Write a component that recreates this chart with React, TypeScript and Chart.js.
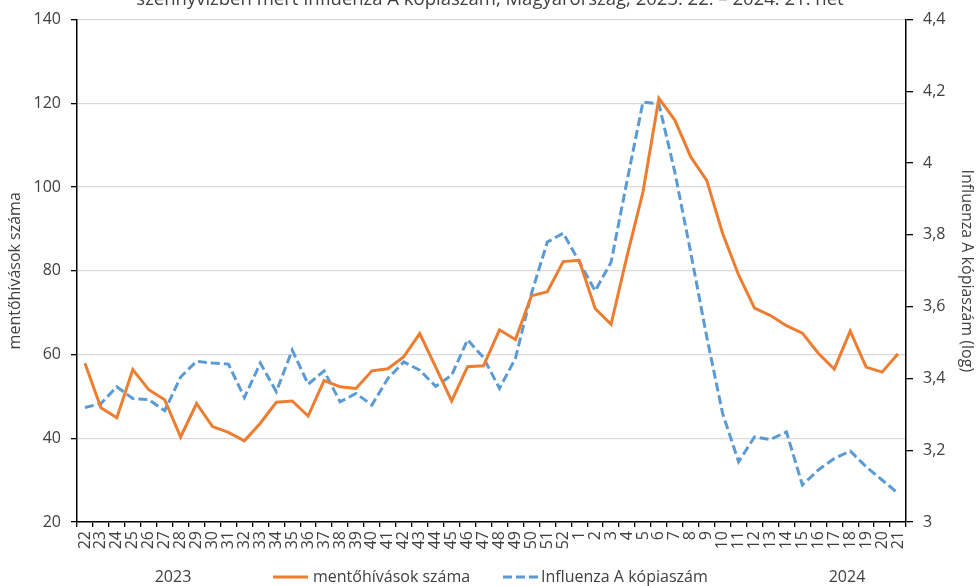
import React, { useEffect, useRef } from "react";
import { Chart, registerables } from "chart.js";

Chart.register(...registerables);

const weeks = [
  "22", "23", "24", "25", "26", "27", "28", "29", "30", "31", "32", "33", "34", "35", "36", "37",
  "38", "39", "40", "41", "42", "43", "44", "45", "46", "47", "48", "49", "50", "51", "52",
  "1", "2", "3", "4", "5", "6", "7", "8", "9", "10", "11", "12", "13", "14", "15", "16", "17",
  "18", "19", "20", "21",
];

const ambulanceCalls = [
  57.9, 47.3, 44.9, 56.4, 51.6, 49.2, 40.3, 48.3, 42.8, 41.4, 39.4, 43.6, 48.6, 48.9, 45.3, 53.8,
  52.3, 51.9, 56.1, 56.6, 59.5, 65.0, 57.0, 48.9, 57.1, 57.3, 65.9, 63.6, 74.0, 75.0, 82.2,
  82.5, 71.0, 67.2, 83.5, 98.8, 121.2, 116.0, 107.2, 101.6, 88.9, 79.0, 71.1, 69.3, 66.9, 65.1,
  60.3, 56.5, 65.6, 57.0, 55.8, 60.2,
];

const fluACopies = [
  3.319, 3.33, 3.377, 3.344, 3.341, 3.31, 3.404, 3.448, 3.443, 3.44, 3.347, 3.443, 3.363, 3.479,
  3.384, 3.421, 3.335, 3.358, 3.326, 3.4, 3.446, 3.423, 3.378, 3.409, 3.508, 3.458, 3.372, 3.456,
  3.636, 3.78, 3.805, 3.725, 3.644, 3.724, 3.95, 4.17, 4.165, 3.975, 3.75, 3.516, 3.302, 3.168,
  3.237, 3.23, 3.251, 3.103, 3.145, 3.177, 3.198, 3.154, 3.117, 3.08,
];

const yearLabels = ["2023", "2024"];
const seriesNames = ["mentőhívások száma", "Influenza A kópiaszám"];
const titleText = "szennyvízben mért Influenza A kópiaszám, Magyarország, 2023. 22. – 2024. 21. hét";
const leftAxisTitle = "mentőhívások száma";
const rightAxisTitle = "Influenza A kópiaszám (log)";

const FONT = '"Open Sans", "DejaVu Sans", sans-serif';
const TEXT = "#404040";
const ORANGE = "#ED7D31";
const BLUE = "#5B9BD5";

const decorPlugin = {
  id: "decor",
  afterDraw(chart: any) {
    const ctx = chart.ctx as CanvasRenderingContext2D;
    ctx.save();
    // title (cut at top)
    ctx.font = `18.5px ${FONT}`;
    ctx.fillStyle = TEXT;
    ctx.textAlign = "center";
    ctx.textBaseline = "alphabetic";
    ctx.fillText(titleText, 490, 5);

    // year labels
    ctx.font = `16px ${FONT}`;
    ctx.textBaseline = "middle";
    ctx.fillText(yearLabels[0], 173, 577);
    ctx.fillText(yearLabels[1], 847, 577);

    // legend
    ctx.textAlign = "left";
    ctx.lineWidth = 3;
    ctx.lineCap = "butt";
    ctx.strokeStyle = ORANGE;
    ctx.setLineDash([]);
    ctx.beginPath();
    ctx.moveTo(273, 577);
    ctx.lineTo(308, 577);
    ctx.stroke();
    ctx.fillText(seriesNames[0], 313, 577);

    ctx.strokeStyle = BLUE;
    ctx.setLineDash([9, 4]);
    ctx.beginPath();
    ctx.moveTo(503, 577);
    ctx.lineTo(538, 577);
    ctx.stroke();
    ctx.setLineDash([]);
    ctx.fillText(seriesNames[1], 541, 577);
    ctx.restore();
  },
};

export default function App() {
  const ref = useRef<HTMLCanvasElement>(null);

  useEffect(() => {
    let chart: Chart | null = null;
    let cancelled = false;
    const make = () => {
      if (cancelled || !ref.current) return;
      const tickFont = { family: FONT, size: 16 };
      chart = new Chart(ref.current, {
        type: "line",
        data: {
          labels: weeks,
          datasets: [
            {
              label: seriesNames[0],
              data: ambulanceCalls,
              yAxisID: "y",
              borderColor: ORANGE,
              backgroundColor: ORANGE,
              borderWidth: 3,
              pointRadius: 0,
              tension: 0,
              fill: false,
            },
            {
              label: seriesNames[1],
              data: fluACopies,
              yAxisID: "y1",
              borderColor: BLUE,
              backgroundColor: BLUE,
              borderWidth: 3,
              borderDash: [9, 4],
              pointRadius: 0,
              tension: 0,
              fill: false,
            },
          ],
        },
        options: {
          responsive: false,
          animation: false,
          layout: { padding: { top: 19, left: 0, right: 0, bottom: 0 } },
          plugins: {
            legend: { display: false },
            tooltip: { enabled: false },
            title: { display: false },
          },
          scales: {
            x: {
              type: "category",
              offset: true,
              grid: {
                offset: true,
                drawOnChartArea: false,
                drawTicks: true,
                tickLength: 5,
                color: "#000",
                lineWidth: 1.3,
              },
              border: { display: true, color: "#000", width: 1.5 },
              ticks: {
                autoSkip: false,
                maxRotation: 90,
                minRotation: 90,
                padding: 4,
                color: TEXT,
                font: tickFont,
              },
              afterFit: (s: any) => {
                s.height = 64;
              },
            },
            y: {
              type: "linear",
              position: "left",
              min: 20,
              max: 140,
              ticks: { stepSize: 20, padding: 10, color: TEXT, font: tickFont },
              grid: { color: "#d9d9d9", tickColor: "#000", tickLength: 6, lineWidth: 1.3 },
              border: { color: "#000", width: 1.5 },
              title: {
                display: true,
                text: leftAxisTitle,
                color: TEXT,
                font: { family: FONT, size: 16 },
                padding: { top: 6, bottom: 0 },
              },
              afterFit: (s: any) => {
                s.width = 77;
              },
            },
            y1: {
              type: "linear",
              position: "right",
              min: 3,
              max: 4.4,
              ticks: {
                stepSize: 0.2,
                padding: 10,
                color: TEXT,
                font: tickFont,
                callback: (v: any) => String(Number(Number(v).toFixed(1))).replace(".", ","),
              },
              grid: { drawOnChartArea: false, color: "#000", tickLength: 7, lineWidth: 1.3 },
              border: { color: "#000", width: 1.5 },
              title: {
                display: true,
                text: rightAxisTitle,
                color: TEXT,
                font: { family: FONT, size: 16 },
                padding: { top: 0, bottom: 0 },
              },
              afterFit: (s: any) => {
                s.width = 70;
              },
            },
          },
        },
        plugins: [decorPlugin],
      } as any);
    };
    const fonts: any = (document as any).fonts;
    if (fonts && fonts.load) {
      fonts.load(`16px "Open Sans"`).then(make, make);
    } else {
      make();
    }
    return () => {
      cancelled = true;
      if (chart) chart.destroy();
    };
  }, []);

  return (
    <div style={{ position: "absolute", left: 0, top: 0, width: 976, height: 586, background: "#fff" }}>
      <canvas ref={ref} width={976} height={586} style={{ display: "block", width: 976, height: 586 }} />
    </div>
  );
}
